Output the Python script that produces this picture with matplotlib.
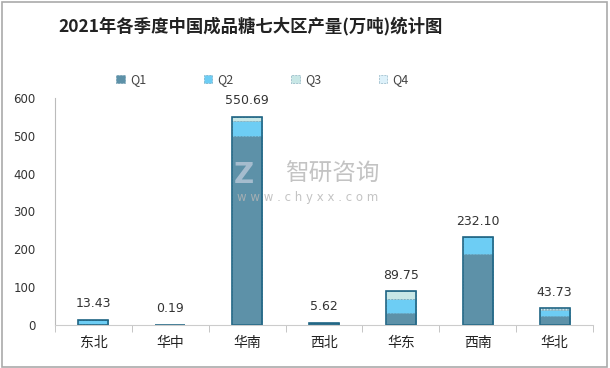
import numpy as np
import matplotlib.pyplot as plt
from matplotlib.patches import Rectangle

plt.rcParams['font.family'] = ['Noto Sans CJK SC', 'DejaVu Sans']

regions = ['东北', '华中', '华南', '西北', '华东', '西南', '华北']
q1 = np.array([3.0, 0.19, 500.5, 5.62, 32.0, 187.5, 24.0])
q2 = np.array([10.43, 0.0, 39.5, 0.0, 37.0, 44.6, 15.0])
q3 = np.array([0.0, 0.0, 8.5, 0.0, 20.5, 0.0, 3.5])
q4 = np.array([0.0, 0.0, 2.19, 0.0, 0.25, 0.0, 1.23])
totals = [13.43, 0.19, 550.69, 5.62, 89.75, 232.10, 43.73]
yticks = [0, 100, 200, 300, 400, 500, 600]

colors = ['#5d91a8', '#6dcdf4', '#c8e7e6', '#ddf1fa']
edge = '#1f6584'

fig = plt.figure(figsize=(6.1, 3.68), dpi=100)
ax = fig.add_axes([55/610, 43/368, 538/610, 227/368])

x = np.arange(len(regions))
w = 0.39
bottom = np.zeros(len(regions))
series = [q1, q2, q3, q4]
names = ['Q1', 'Q2', 'Q3', 'Q4']
for vals, c, n in zip(series, colors, names):
    ax.bar(x, vals, w, bottom=bottom, color=c, label=n, edgecolor=edge,
           linewidth=0.4, linestyle=':')
    bottom += vals
# outline of whole stacked bar
ax.bar(x, bottom, w, fill=False, edgecolor=edge, linewidth=1.2)

for xi, t in zip(x, totals):
    ax.annotate('%.2f' % t, (xi, t), xytext=(0, 11.5), textcoords='offset points',
                ha='center', va='center', fontsize=9, color='#333333',
                family=['DejaVu Sans'])

ax.set_xlim(-0.5, 6.5)
ax.set_ylim(0, 600)
ax.set_yticks(yticks)
ax.set_xticks(x)
ax.set_xticklabels(regions, fontsize=10, color='#222222')
ax.set_xticks(np.arange(-0.5, 7, 1), minor=True)
ax.tick_params(axis='x', which='major', length=0, pad=8)
ax.tick_params(axis='x', which='minor', length=5, color='#bbbbbb')
ax.tick_params(axis='y', length=0, labelsize=8.5, labelcolor='#333333', pad=14)
for lab in ax.get_yticklabels():
    lab.set_family(['DejaVu Sans'])
for s in ['top', 'right']:
    ax.spines[s].set_visible(False)
ax.spines['left'].set_color('#bbbbbb')
ax.spines['bottom'].set_color('#cccccc')

# watermark
fig.text(0.545, 0.525, '智研咨询', fontsize=17, color='#b5b5b5', ha='center',
         va='center', alpha=0.8)
fig.text(0.505, 0.463, 'w w w . c h y x x . c o m', fontsize=8.5,
         color='#b5b5b5', ha='center', va='center', alpha=0.8,
         family=['DejaVu Sans'])
fig.text(0.40, 0.525, 'Z', fontsize=20, color='#b8c8d8', ha='center',
         va='center', fontweight='bold', alpha=0.8, family=['DejaVu Sans'])

fig.text(0.41, 0.928, '2021年各季度中国成品糖七大区产量(万吨)统计图',
         fontsize=12.5, fontweight='bold', ha='center', va='center',
         color='#222222')

leg = fig.legend(loc='center', bbox_to_anchor=(0.43, 0.783), ncol=4,
                 frameon=False, fontsize=9, handlelength=0.7,
                 handleheight=0.7, columnspacing=4.6, handletextpad=0.4)
for t in leg.get_texts():
    t.set_color('#444444')

fig.patches.append(Rectangle((0.003, 0.004), 0.992, 0.99, transform=fig.transFigure,
                             fill=False, edgecolor='#aaaaaa', linewidth=1.2))

fig.savefig('out.png', dpi=100)
